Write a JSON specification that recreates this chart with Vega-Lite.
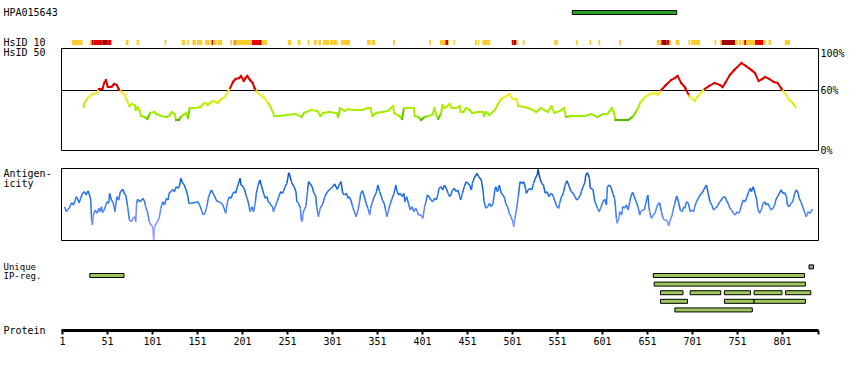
{
  "$schema": "https://vega.github.io/schema/vega-lite/v6.json",
  "padding": {"left": 2, "top": 0, "right": 0, "bottom": 0},
  "spacing": 18,
  "bounds": "flush",
  "config": {
    "font": "DejaVu Sans Mono",
    "view": {"stroke": null},
    "axis": {"labelFont": "DejaVu Sans Mono", "titleFont": "DejaVu Sans Mono", "labelFontSize": 10, "titleFontSize": 10, "titleFontWeight": "normal", "labelColor": "black", "titleColor": "black", "grid": false}
  },
  "datasets": {
    "hpa": [{"start": 568, "end": 684}],
    "hsid10": [
      {"start":12,"end":24,"level":"y"},{"start":32,"end":34,"level":"y"},{"start":34,"end":36,"level":"d"},{"start":36,"end":46,"level":"r"},{"start":46,"end":52,"level":"d"},{"start":52,"end":56,"level":"r"},
      {"start":72,"end":75,"level":"y"},{"start":84,"end":87,"level":"y"},{"start":115,"end":117,"level":"y"},{"start":134,"end":138,"level":"y"},{"start":140,"end":142,"level":"y"},{"start":146,"end":150,"level":"y"},{"start":151,"end":157,"level":"y"},{"start":160,"end":165,"level":"y"},{"start":166,"end":167.4,"level":"y"},{"start":167.4,"end":169.2,"level":"r"},{"start":170,"end":173,"level":"y"},{"start":174,"end":179,"level":"y"},
      {"start":188,"end":190,"level":"y"},{"start":191,"end":193,"level":"y"},{"start":193,"end":194,"level":"d"},{"start":194,"end":212,"level":"y"},{"start":212,"end":221,"level":"r"},{"start":221,"end":223,"level":"d"},{"start":223,"end":229,"level":"y"},
      {"start":252,"end":256,"level":"y"},{"start":263,"end":266,"level":"y"},{"start":274,"end":276,"level":"y"},{"start":281,"end":284,"level":"y"},{"start":286,"end":289,"level":"y"},{"start":291,"end":298,"level":"y"},{"start":299,"end":307,"level":"y"},{"start":311,"end":321,"level":"y"},{"start":340,"end":344,"level":"y"},{"start":345,"end":349,"level":"y"},{"start":369,"end":371,"level":"y"},{"start":409,"end":411,"level":"y"},
      {"start":421,"end":427,"level":"y"},{"start":427,"end":430,"level":"r"},{"start":430,"end":431,"level":"y"},{"start":436,"end":437.5,"level":"y"},{"start":460,"end":462,"level":"y"},{"start":463,"end":464.5,"level":"y"},{"start":468,"end":477,"level":"y"},
      {"start":500,"end":501,"level":"y"},{"start":501,"end":503,"level":"r"},{"start":503,"end":506,"level":"d"},{"start":506,"end":508,"level":"y"},{"start":513,"end":515,"level":"y"},{"start":548,"end":552,"level":"y"},{"start":572,"end":574,"level":"y"},{"start":587,"end":589,"level":"y"},{"start":597,"end":599,"level":"y"},{"start":620,"end":622,"level":"y"},
      {"start":662,"end":667,"level":"y"},{"start":667,"end":673,"level":"d"},{"start":673,"end":676,"level":"r"},{"start":676,"end":677.5,"level":"y"},{"start":683,"end":687,"level":"y"},{"start":697,"end":699,"level":"y"},{"start":700,"end":710,"level":"y"},{"start":726,"end":728,"level":"y"},
      {"start":732,"end":734,"level":"y"},{"start":734,"end":749,"level":"d"},{"start":749,"end":752,"level":"y"},{"start":753,"end":756,"level":"y"},{"start":757,"end":759,"level":"y"},{"start":759,"end":761,"level":"r"},{"start":761,"end":771,"level":"y"},{"start":771,"end":780,"level":"r"},{"start":780,"end":783,"level":"y"},{"start":786,"end":789,"level":"y"},{"start":804,"end":810,"level":"y"}
    ],
    "hsid50": [
      {"r":25,"v":43},{"r":26,"v":47},{"r":30,"v":52},{"r":35,"v":56},{"r":40,"v":57},{"r":42,"v":61},{"r":46,"v":61},{"r":48,"v":67},{"r":50,"v":70},{"r":52,"v":63},{"r":56,"v":63},{"r":59,"v":66},{"r":62,"v":65},{"r":64,"v":61},{"r":66,"v":59},{"r":70,"v":56},{"r":73,"v":50},{"r":76,"v":44},{"r":79,"v":46},{"r":82,"v":45},{"r":83,"v":40},{"r":85,"v":43},{"r":87,"v":40},{"r":89,"v":34},{"r":93,"v":33},{"r":96,"v":31},{"r":99,"v":37},{"r":104,"v":38},{"r":106,"v":36},{"r":111,"v":34},{"r":117,"v":33},{"r":120,"v":34},{"r":123,"v":38},{"r":126,"v":36},{"r":128,"v":30},{"r":131,"v":30},{"r":133,"v":33},{"r":136,"v":35},{"r":139,"v":37},{"r":141,"v":32},{"r":143,"v":42},{"r":146,"v":42},{"r":150,"v":42},{"r":155,"v":43},{"r":158,"v":46},{"r":161,"v":47},{"r":163,"v":45},{"r":167,"v":48},{"r":170,"v":49},{"r":174,"v":47},{"r":178,"v":51},{"r":182,"v":53},{"r":185,"v":58},{"r":188,"v":62},{"r":191,"v":68},{"r":194,"v":71},{"r":198,"v":72},{"r":200,"v":74},{"r":203,"v":69},{"r":205,"v":72},{"r":207,"v":74},{"r":210,"v":70},{"r":213,"v":67},{"r":215,"v":62},{"r":217,"v":59},{"r":220,"v":56},{"r":226,"v":52},{"r":230,"v":47},{"r":233,"v":43},{"r":237,"v":34},{"r":243,"v":34},{"r":250,"v":35},
      {"r":261,"v":36},{"r":267,"v":33},{"r":270,"v":37},{"r":278,"v":40},{"r":285,"v":39},{"r":288,"v":34},{"r":291,"v":37},{"r":298,"v":38},{"r":306,"v":37},{"r":308,"v":33},{"r":310,"v":42},{"r":315,"v":39},{"r":319,"v":41},{"r":323,"v":40},{"r":330,"v":40},{"r":335,"v":40},{"r":340,"v":42},{"r":344,"v":42},{"r":346,"v":34},{"r":350,"v":37},{"r":357,"v":38},{"r":363,"v":39},{"r":369,"v":44},{"r":370,"v":37},{"r":376,"v":34},{"r":379,"v":31},{"r":381,"v":42},{"r":387,"v":42},{"r":392,"v":42},{"r":393,"v":34},{"r":397,"v":33},{"r":400,"v":30},{"r":404,"v":33},{"r":409,"v":34},{"r":413,"v":36},{"r":415,"v":42},{"r":417,"v":35},{"r":419,"v":31},{"r":422,"v":36},{"r":424,"v":45},{"r":426,"v":42},{"r":428,"v":43},{"r":432,"v":46},{"r":434,"v":42},{"r":439,"v":42},{"r":443,"v":44},{"r":444,"v":38},{"r":447,"v":38},{"r":450,"v":42},{"r":454,"v":40},{"r":457,"v":37},{"r":463,"v":38},{"r":469,"v":38},{"r":470,"v":34},{"r":472,"v":38},{"r":476,"v":35},{"r":482,"v":40},{"r":485,"v":45},{"r":489,"v":51},{"r":493,"v":53},{"r":498,"v":56},{"r":502,"v":51},{"r":506,"v":51},{"r":508,"v":44},{"r":515,"v":43},{"r":522,"v":41},{"r":528,"v":38},{"r":533,"v":42},{"r":537,"v":40},{"r":541,"v":38},{"r":545,"v":44},
      {"r":548,"v":37},{"r":554,"v":39},{"r":559,"v":42},{"r":561,"v":33},{"r":567,"v":34},{"r":582,"v":34},{"r":589,"v":36},{"r":596,"v":33},{"r":602,"v":36},{"r":607,"v":36},{"r":612,"v":42},{"r":614,"v":38},{"r":616,"v":30},{"r":622,"v":30},{"r":630,"v":30},{"r":635,"v":33},{"r":640,"v":40},{"r":644,"v":48},{"r":649,"v":53},{"r":654,"v":56},{"r":659,"v":57},{"r":663,"v":55},{"r":667,"v":60},{"r":672,"v":65},{"r":678,"v":70},{"r":682,"v":72},{"r":685,"v":74},{"r":689,"v":67},{"r":693,"v":63},{"r":694,"v":61},{"r":698,"v":54},{"r":704,"v":49},{"r":707,"v":53},{"r":711,"v":57},{"r":715,"v":61},{"r":720,"v":64},{"r":726,"v":67},{"r":732,"v":65},{"r":735,"v":63},{"r":738,"v":67},{"r":743,"v":75},{"r":748,"v":80},{"r":756,"v":87},{"r":761,"v":84},{"r":767,"v":80},{"r":771,"v":77},{"r":775,"v":69},{"r":779,"v":71},{"r":782,"v":73},{"r":787,"v":71},{"r":792,"v":68},{"r":796,"v":67},{"r":800,"v":62},{"r":802,"v":59},{"r":806,"v":55},{"r":809,"v":50},{"r":813,"v":47},{"r":816,"v":43}
    ],
    "antigen": [
      {"r":4,"s":-0.22},{"r":6,"s":-0.64},{"r":7,"s":-0.5},{"r":9,"s":-0.36},{"r":12,"s":0.11},{"r":14,"s":-0.08},{"r":17,"s":0.61},{"r":19,"s":0.33},{"r":20,"s":0.11},{"r":22,"s":0.47},{"r":24,"s":0.89},{"r":26,"s":1.03},{"r":28,"s":0.75},{"r":30,"s":1.11},{"r":32,"s":0.67},{"r":33,"s":0.33},{"r":34,"s":-1.33},{"r":35,"s":-1.75},{"r":36,"s":-0.92},{"r":38,"s":-0.5},{"r":40,"s":-0.78},{"r":42,"s":-0.36},{"r":43,"s":-0.64},{"r":45,"s":-0.22},{"r":46,"s":-0.72},{"r":48,"s":-0.5},{"r":51,"s":0.19},{"r":53,"s":0.06},{"r":54,"s":0.89},{"r":56,"s":0.33},{"r":58,"s":0.11},{"r":60,"s":-0.64},{"r":62,"s":0.61},{"r":64,"s":0.33},{"r":66,"s":1.03},{"r":69,"s":1.22},{"r":70,"s":0.89},{"r":72,"s":0.75},{"r":74,"s":-0.22},{"r":76,"s":-1.33},{"r":78,"s":-1.47},{"r":80,"s":-1.19},{"r":82,"s":-1.06},{"r":83,"s":-1.47},{"r":84,"s":0.06},{"r":85,"s":0.39},{"r":88,"s":0.19},{"r":91,"s":0.47},{"r":93,"s":0.19},{"r":94,"s":-0.22},{"r":96,"s":-0.64},{"r":98,"s":-1.47},{"r":100,"s":-1.75},{"r":102,"s":-1.89},{"r":103,"s":-3.0},{"r":104,"s":-1.89},{"r":107,"s":-1.47},{"r":109,"s":-1.19},{"r":111,"s":-0.36},{"r":113,"s":0.19},{"r":115,"s":-0.08},{"r":117,"s":0.47},{"r":119,"s":0.33},{"r":120,"s":0.89},{"r":122,"s":1.03},{"r":124,"s":1.22},{"r":126,"s":1.03},{"r":128,"s":1.44},{"r":130,"s":1.31},{"r":132,"s":1.58},{"r":133,"s":2.14},{"r":135,"s":1.78},{"r":137,"s":1.58},{"r":139,"s":1.17},{"r":141,"s":0.61},{"r":142,"s":0.06},{"r":144,"s":0.06},{"r":148,"s":0.11},{"r":152,"s":0.19},{"r":154,"s":-0.08},{"r":156,"s":-0.5},{"r":158,"s":-0.92},{"r":160,"s":-0.78},{"r":162,"s":-0.22},{"r":164,"s":0.61},{"r":167,"s":1.17},{"r":169,"s":0.89},{"r":170,"s":0.75},{"r":172,"s":0.39},{"r":174,"s":0.19},{"r":176,"s":0.19},{"r":178,"s":0.06},{"r":180,"s":-0.08},{"r":183,"s":-0.78},{"r":185,"s":0.19},{"r":187,"s":0.61},{"r":189,"s":0.47},{"r":191,"s":0.89},{"r":193,"s":1.03},{"r":194,"s":0.89},{"r":196,"s":1.44},{"r":199,"s":2.14},{"r":200,"s":1.58},{"r":202,"s":1.5},{"r":204,"s":1.17},{"r":206,"s":0.61},{"r":207,"s":0.47},{"r":209,"s":-0.22},{"r":210,"s":-0.64},{"r":212,"s":-0.22},{"r":214,"s":-0.64},{"r":216,"s":0.19},{"r":217,"s":0.89},{"r":219,"s":1.58},{"r":221,"s":2.0},{"r":223,"s":1.44},{"r":225,"s":0.89},{"r":227,"s":0.47},{"r":229,"s":0.61},{"r":230,"s":0.19},{"r":232,"s":0.11},{"r":233,"s":-0.08},{"r":235,"s":-0.22},{"r":236,"s":-0.64},{"r":238,"s":-0.22},{"r":240,"s":0.19},{"r":242,"s":0.61},{"r":244,"s":1.03},{"r":246,"s":0.89},{"r":247,"s":1.03},{"r":249,"s":1.44},{"r":251,"s":1.72},{"r":253,"s":2.61},{"r":254,"s":2.42},{"r":256,"s":1.86},{"r":257,"s":1.67},{"r":259,"s":1.44},{"r":261,"s":1.03},{"r":262,"s":0.19},{"r":264,"s":0.06},{"r":266,"s":-0.36},{"r":267,"s":-1.33},
      {"r":268,"s":-1.47},{"r":269,"s":-0.78},{"r":270,"s":-0.5},{"r":272,"s":-0.22},{"r":274,"s":1.17},{"r":275,"s":1.86},{"r":277,"s":1.67},{"r":279,"s":1.44},{"r":281,"s":0.89},{"r":283,"s":0.67},{"r":284,"s":-0.22},{"r":286,"s":-1.06},{"r":288,"s":-0.36},{"r":291,"s":0.06},{"r":293,"s":0.61},{"r":296,"s":1.03},{"r":298,"s":1.17},{"r":300,"s":1.31},{"r":302,"s":1.44},{"r":304,"s":1.67},{"r":307,"s":1.22},{"r":309,"s":1.58},{"r":311,"s":1.86},{"r":313,"s":0.89},{"r":315,"s":0.75},{"r":317,"s":0.89},{"r":319,"s":0.47},{"r":320,"s":0.61},{"r":322,"s":0.33},{"r":324,"s":-0.22},{"r":326,"s":-0.64},{"r":328,"s":-1.06},{"r":330,"s":-0.5},{"r":332,"s":0.33},{"r":333,"s":0.89},{"r":335,"s":1.11},{"r":337,"s":0.61},{"r":339,"s":0.06},{"r":341,"s":-0.36},{"r":343,"s":-0.92},{"r":344,"s":-0.36},{"r":346,"s":0.19},{"r":348,"s":0.61},{"r":350,"s":0.89},{"r":352,"s":1.58},{"r":354,"s":1.03},{"r":356,"s":0.61},{"r":357,"s":0.33},{"r":359,"s":0.06},{"r":361,"s":-0.64},{"r":362,"s":-1.06},{"r":364,"s":-0.5},{"r":366,"s":0.06},{"r":368,"s":0.47},{"r":370,"s":0.89},{"r":372,"s":1.58},{"r":373,"s":1.17},{"r":375,"s":0.75},{"r":377,"s":0.89},{"r":379,"s":0.61},{"r":381,"s":0.89},{"r":382,"s":0.19},{"r":384,"s":0.61},{"r":386,"s":0.06},{"r":388,"s":-0.5},{"r":390,"s":-0.22},{"r":392,"s":-0.64},{"r":394,"s":-0.36},{"r":396,"s":-0.64},{"r":397,"s":-0.92},{"r":400,"s":-0.92},{"r":402,"s":-1.19},{"r":404,"s":-0.22},{"r":406,"s":0.33},{"r":407,"s":0.75},{"r":409,"s":0.61},{"r":411,"s":0.33},{"r":413,"s":0.19},{"r":415,"s":0.47},{"r":417,"s":0.33},{"r":419,"s":0.89},{"r":420,"s":1.31},{"r":422,"s":1.44},{"r":424,"s":1.17},{"r":426,"s":1.58},{"r":428,"s":1.31},{"r":430,"s":0.89},{"r":432,"s":0.61},{"r":433,"s":0.75},{"r":435,"s":1.17},{"r":437,"s":1.31},{"r":439,"s":1.03},{"r":441,"s":1.17},{"r":443,"s":0.61},{"r":444,"s":0.33},{"r":446,"s":0.89},{"r":448,"s":1.44},{"r":450,"s":1.86},{"r":452,"s":1.72},{"r":454,"s":1.58},{"r":456,"s":1.17},{"r":457,"s":1.72},{"r":459,"s":2.14},{"r":462,"s":2.56},{"r":464,"s":2.28},{"r":467,"s":2.0},{"r":469,"s":1.03},{"r":470,"s":0.19},{"r":472,"s":-0.36},{"r":474,"s":-0.22},{"r":476,"s":0.06},{"r":478,"s":-0.22},{"r":480,"s":0.06},{"r":482,"s":1.17},{"r":483,"s":1.44},{"r":485,"s":1.03},{"r":487,"s":1.58},{"r":489,"s":0.89},{"r":491,"s":0.75},{"r":493,"s":0.47},{"r":494,"s":0.06},{"r":496,"s":-0.22},{"r":498,"s":-0.78},{"r":500,"s":-1.06},{"r":502,"s":-1.47},{"r":503,"s":-1.89},{"r":504,"s":-1.33},{"r":506,"s":-0.5},{"r":508,"s":0.61},{"r":510,"s":1.86},{"r":512,"s":1.72},{"r":514,"s":1.86},{"r":516,"s":1.31},{"r":517,"s":0.89},{"r":519,"s":1.17},{"r":521,"s":1.31},{"r":523,"s":1.17},{"r":525,"s":1.72},{"r":527,"s":2.14},{"r":529,"s":2.42},{"r":530,"s":2.89},{"r":532,"s":2.14},{"r":534,"s":1.72},{"r":536,"s":1.58},{"r":538,"s":0.89},{"r":540,"s":1.03},{"r":542,"s":0.61},{"r":543,"s":0.75},{"r":545,"s":0.89},{"r":547,"s":0.61},{"r":549,"s":0.19},{"r":551,"s":-0.22},{"r":553,"s":-0.36},{"r":554,"s":0.06},{"r":556,"s":0.61},{"r":558,"s":0.89},{"r":560,"s":1.58},{"r":562,"s":1.94},{"r":564,"s":1.58},{"r":566,"s":1.17},{"r":567,"s":1.03},{"r":569,"s":0.89},{"r":571,"s":0.61},{"r":573,"s":0.33},{"r":575,"s":0.47},{"r":577,"s":0.75},
      {"r":578,"s":1.03},{"r":580,"s":1.44},{"r":582,"s":1.78},{"r":583,"s":2.42},{"r":585,"s":2.61},{"r":587,"s":2.14},{"r":588,"s":1.31},{"r":591,"s":1.22},{"r":593,"s":0.19},{"r":594,"s":0.06},{"r":596,"s":-0.36},{"r":598,"s":-0.64},{"r":600,"s":-0.22},{"r":602,"s":0.19},{"r":604,"s":0.39},{"r":606,"s":-0.08},{"r":607,"s":1.44},{"r":609,"s":1.58},{"r":611,"s":1.39},{"r":613,"s":0.89},{"r":615,"s":0.47},{"r":616,"s":-0.22},{"r":617,"s":-1.19},{"r":618,"s":-1.61},{"r":620,"s":-1.06},{"r":621,"s":-0.64},{"r":623,"s":-0.92},{"r":624,"s":-0.22},{"r":626,"s":-0.36},{"r":628,"s":-0.08},{"r":630,"s":-0.5},{"r":632,"s":0.19},{"r":633,"s":0.61},{"r":635,"s":0.97},{"r":637,"s":0.61},{"r":639,"s":0.19},{"r":641,"s":-0.22},{"r":643,"s":-0.92},{"r":644,"s":-0.64},{"r":646,"s":-0.5},{"r":648,"s":-0.5},{"r":650,"s":0.19},{"r":652,"s":0.75},{"r":653,"s":-0.22},{"r":654,"s":-0.64},{"r":656,"s":-1.19},{"r":658,"s":-0.92},{"r":660,"s":-0.78},{"r":662,"s":-0.22},{"r":664,"s":0.06},{"r":665,"s":0.11},{"r":667,"s":-0.64},{"r":669,"s":-1.19},{"r":670,"s":-1.33},{"r":672,"s":-1.33},{"r":674,"s":-1.47},{"r":675,"s":-1.83},{"r":677,"s":-1.33},{"r":679,"s":-0.92},{"r":680,"s":-0.5},{"r":682,"s":0.06},{"r":684,"s":0.67},{"r":686,"s":0.19},{"r":688,"s":-0.5},{"r":690,"s":-0.64},{"r":692,"s":-0.22},{"r":693,"s":-0.36},{"r":695,"s":0.19},{"r":697,"s":0.06},{"r":699,"s":-0.64},{"r":701,"s":-0.5},{"r":703,"s":-0.64},{"r":704,"s":-0.22},{"r":706,"s":0.19},{"r":708,"s":0.47},{"r":710,"s":0.75},{"r":712,"s":0.89},{"r":714,"s":1.17},{"r":716,"s":1.44},{"r":717,"s":1.58},{"r":719,"s":0.89},{"r":721,"s":0.19},{"r":723,"s":-0.08},{"r":725,"s":-0.5},{"r":727,"s":-0.36},{"r":729,"s":-0.22},{"r":730,"s":-0.08},{"r":732,"s":0.19},{"r":734,"s":0.39},{"r":736,"s":0.61},{"r":738,"s":0.56},{"r":740,"s":0.19},{"r":742,"s":-0.08},{"r":743,"s":-0.36},{"r":745,"s":-0.5},{"r":747,"s":-0.78},{"r":749,"s":-0.92},{"r":751,"s":-0.64},{"r":753,"s":-0.78},{"r":754,"s":-0.64},{"r":756,"s":-0.08},{"r":758,"s":0.33},{"r":760,"s":0.19},{"r":762,"s":0.61},{"r":764,"s":1.03},{"r":766,"s":1.31},{"r":767,"s":1.03},{"r":769,"s":1.44},{"r":771,"s":0.89},{"r":773,"s":0.33},{"r":774,"s":-0.36},{"r":776,"s":-0.78},{"r":778,"s":-0.5},{"r":780,"s":0.06},{"r":782,"s":0.19},{"r":783,"s":-0.08},{"r":785,"s":0.06},{"r":787,"s":-0.22},{"r":789,"s":-0.5},{"r":791,"s":-0.36},{"r":793,"s":-0.08},{"r":794,"s":0.33},{"r":796,"s":0.61},{"r":798,"s":0.89},{"r":800,"s":1.17},{"r":802,"s":0.89},{"r":804,"s":0.94},{"r":806,"s":0.61},{"r":807,"s":-0.08},{"r":809,"s":-0.22},{"r":811,"s":0.06},{"r":813,"s":0.19},{"r":815,"s":0.89},{"r":817,"s":1.17},{"r":819,"s":0.89},{"r":820,"s":0.47},{"r":822,"s":0.19},{"r":824,"s":-0.22},{"r":826,"s":-0.64},{"r":828,"s":-1.06},{"r":830,"s":-0.64},{"r":832,"s":-0.78},{"r":833,"s":-0.64},{"r":835,"s":-0.44}
    ],
    "ipreg": [
      {"start":831,"end":836,"lane":0,"kind":"other"},
      {"start":32,"end":70,"lane":1,"kind":"unique"},
      {"start":658,"end":826,"lane":1,"kind":"unique"},
      {"start":659,"end":827,"lane":2,"kind":"unique"},
      {"start":666,"end":691,"lane":3,"kind":"unique"},
      {"start":699,"end":733,"lane":3,"kind":"unique"},
      {"start":737,"end":766,"lane":3,"kind":"unique"},
      {"start":770,"end":801,"lane":3,"kind":"unique"},
      {"start":805,"end":833,"lane":3,"kind":"unique"},
      {"start":666,"end":696,"lane":4,"kind":"unique"},
      {"start":737,"end":770,"lane":4,"kind":"unique"},
      {"start":770,"end":827,"lane":4,"kind":"unique"},
      {"start":682,"end":768,"lane":5,"kind":"unique"}
    ]
  },
  "vconcat": [
    {
      "width": 757,
      "height": 30,
      "layer": [
        {
          "data": {"name": "hpa"},
          "mark": {"type": "bar", "orient": "horizontal", "size": 4, "color": "#22a522", "stroke": "black", "strokeWidth": 1},
          "encoding": {
            "x": {"field": "start", "type": "quantitative", "scale": {"domain": [0, 841], "nice": false, "zero": false}, "axis": null},
            "x2": {"field": "end"},
            "y": {"datum": "HPA015643", "type": "nominal", "scale": {"domain": ["HPA015643", "HsID 10"], "range": [-2.5, 57.5], "paddingInner": 0, "paddingOuter": 0},
                  "axis": {"orient": "left", "title": null, "ticks": false, "tickSize": 0, "domain": false, "labelAlign": "left", "labelBaseline": "middle", "labelPadding": 58}}
          }
        },
        {
          "data": {"name": "hsid10"},
          "mark": {"type": "bar", "orient": "horizontal", "size": 5},
          "encoding": {
            "x": {"field": "start", "type": "quantitative", "scale": {"domain": [0, 841], "nice": false, "zero": false}, "axis": null},
            "x2": {"field": "end"},
            "y": {"datum": "HsID 10", "type": "nominal"},
            "color": {"field": "level", "type": "nominal", "scale": {"domain": ["y", "r", "d"], "range": ["#ffcc2e", "#e60000", "#a00000"]}, "legend": null}
          }
        }
      ]
    },
    {
      "width": 757,
      "height": 102,
      "view": {"stroke": "black", "strokeWidth": 1},
      "layer": [
        {
          "data": {"values": [{"v": 60}]},
          "mark": {"type": "rule", "color": "black", "strokeWidth": 1, "yOffset": 0.5},
          "encoding": {
            "y": {"field": "v", "type": "quantitative", "scale": {"domain": [0, 102], "nice": false, "zero": false},
                  "axis": {"orient": "right", "values": [0, 60, 100], "labelExpr": "datum.value + '%'", "ticks": false, "tickSize": 0, "domain": false, "labelPadding": 2, "labelBaseline": "middle",
                           "labelOffset": {"condition": {"test": "datum.value == 100", "value": 3}, "value": 0},
                           "title": "HsID 50", "titleAngle": 0, "titleAlign": "left", "titleBaseline": "middle", "titleX": -815, "titleY": 4}}
          }
        },
        {
          "data": {"name": "hsid50"},
          "transform": [
            {"window": [{"op": "lead", "field": "r", "as": "r2"}, {"op": "lead", "field": "v", "as": "v2"}], "sort": [{"field": "r"}]},
            {"filter": "datum.r2 != null"}
          ],
          "mark": {"type": "rule", "strokeWidth": 2, "strokeCap": "square"},
          "encoding": {
            "x": {"field": "r", "type": "quantitative", "scale": {"domain": [0, 841], "nice": false, "zero": false}, "axis": null},
            "x2": {"field": "r2"},
            "y": {"field": "v", "type": "quantitative"},
            "y2": {"field": "v2"},
            "color": {"field": "v", "type": "quantitative", "legend": null,
                      "scale": {"domain": [30, 34, 45, 52, 59.9, 60, 100], "range": ["#55b800", "#99ee00", "#b4ee00", "#eeee22", "#eeee22", "#dd0000", "#dd0000"]}}
          }
        }
      ]
    },
    {
      "width": 757,
      "height": 72,
      "view": {"stroke": "black", "strokeWidth": 1},
      "data": {"name": "antigen"},
      "transform": [
        {"window": [{"op": "lead", "field": "r", "as": "r2"}, {"op": "lead", "field": "s", "as": "s2"}], "sort": [{"field": "r"}]},
        {"filter": "datum.r2 != null"}
      ],
      "mark": {"type": "rule", "strokeWidth": 1.5},
      "encoding": {
        "x": {"field": "r", "type": "quantitative", "scale": {"domain": [0, 841], "nice": false, "zero": false}, "axis": null},
        "x2": {"field": "r2"},
        "y": {"field": "s", "type": "quantitative", "scale": {"domain": [-3, 3], "nice": false, "zero": false},
              "axis": {"orient": "left", "labels": false, "ticks": false, "domain": false, "title": ["Antigen-", "icity"], "titleAngle": 0, "titleAlign": "left", "titleBaseline": "alphabetic", "titleX": -58, "titleY": 8, "titleLineHeight": 10}},
        "y2": {"field": "s2"},
        "color": {"field": "s", "type": "quantitative", "legend": null,
                  "scale": {"domain": [-3, -1.5, 0, 1.5, 3], "range": ["#aaa6ff", "#6c8cff", "#2a78f2", "#1466e0", "#0a48a8"]}}
      }
    },
    {
      "width": 757,
      "height": 72,
      "data": {"name": "ipreg"},
      "mark": {"type": "bar", "orient": "horizontal", "size": 4, "stroke": "black", "strokeWidth": 1},
      "encoding": {
        "x": {"field": "start", "type": "quantitative", "scale": {"domain": [0, 841], "nice": false, "zero": false},
              "axis": {"orient": "bottom", "values": [1, 51, 101, 151, 201, 251, 301, 351, 401, 451, 501, 551, 601, 651, 701, 751, 801, 841],
                       "labelExpr": "datum.value == 841 ? '' : datum.label", "domainColor": "black", "domainWidth": 3, "tickColor": "black", "tickWidth": 2, "tickSize": 4, "labelPadding": 2, "labelFlush": false, "labelOverlap": false,
                       "title": "Protein", "titleAngle": 0, "titleAlign": "left", "titleBaseline": "middle", "titleX": -58, "titleY": 0}},
        "x2": {"field": "end"},
        "y": {"field": "lane", "type": "quantitative", "scale": {"domain": [-0.45, 6.75], "reverse": true, "nice": false, "zero": false},
              "axis": {"orient": "left", "values": [0, 1], "labelExpr": "datum.value == 0 ? 'Unique' : 'IP-reg.'", "title": null, "ticks": false, "tickSize": 0, "domain": false, "labelAlign": "left", "labelBaseline": "middle", "labelPadding": 58, "labelFontSize": 9,
                       "labelOffset": {"condition": {"test": "datum.value == 0", "value": -0.5}, "value": 0.5}}},
        "color": {"field": "kind", "type": "nominal", "scale": {"domain": ["unique", "other"], "range": ["#9dc85a", "#999999"]}, "legend": null}
      }
    }
  ]
}
